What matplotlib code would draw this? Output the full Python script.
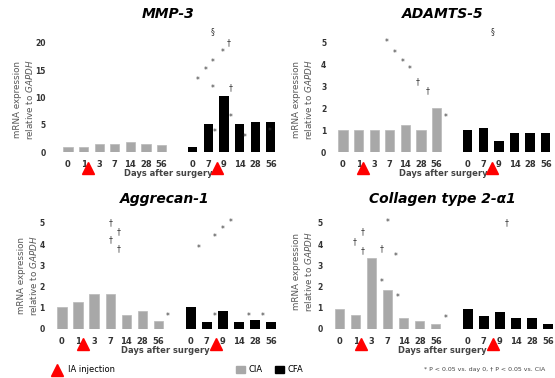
import matplotlib
matplotlib.use("Agg")
import matplotlib.pyplot as plt
from matplotlib.lines import Line2D
from matplotlib.patches import Patch
import numpy as np

# ---------------- data ----------------
gray_days = ["0", "1", "3", "7", "14", "28", "56"]
black_days = ["0", "7", "9", "14", "28", "56"]

titles = ["MMP-3", "ADAMTS-5", "Aggrecan-1", "Collagen type 2-α1"]

mmp3_gray = [0.9, 0.9, 1.4, 1.4, 1.9, 1.4, 1.25]
mmp3_black = [1.0, 5.1, 10.3, 5.1, 5.5, 5.5]

adamts5_gray = [1.0, 1.0, 1.0, 1.0, 1.23, 1.0, 2.0]
adamts5_black = [1.0, 1.08, 0.5, 0.85, 0.85, 0.85]

aggrecan_gray = [1.03, 1.27, 1.65, 1.65, 0.67, 0.83, 0.38]
aggrecan_black = [1.03, 0.35, 0.83, 0.35, 0.43, 0.35]

collagen_gray = [0.94, 0.67, 3.33, 1.84, 0.51, 0.38, 0.25]
collagen_black = [0.94, 0.62, 0.78, 0.51, 0.51, 0.25]

yticks_list = [[0, 5, 10, 15, 20], [0, 1, 2, 3, 4, 5], [0, 1, 2, 3, 4, 5], [0, 1, 2, 3, 4, 5]]
ytop_list = [22, 5.5, 5.3, 5.3]

# significance markers: (position index, y value, symbol)
marks_mmp3 = [(10.3, 20.0, "†"), (9.9, 18.2, "*"), (9.3, 16.5, "*"), (8.8, 15.0, "*"),
              (8.3, 13.2, "*"), (9.3, 11.7, "*"), (10.4, 11.7, "†"), (10.4, 6.4, "*"),
              (9.4, 3.5, "*"), (11.3, 2.6, "*"), (12.9, 3.7, "*"), (9.3, 22.0, "§")]
marks_adamts = [(2.8, 5.0, "*"), (3.3, 4.5, "*"), (3.8, 4.1, "*"), (4.3, 3.8, "*"),
                (4.8, 3.2, "†"), (5.4, 2.8, "†"), (6.6, 1.6, "*"), (9.6, 5.5, "§")]
marks_aggrecan = [(3.0, 5.0, "†"), (3.5, 4.6, "†"), (3.0, 4.2, "†"), (3.5, 3.8, "†"),
                  (8.5, 3.8, "*"), (9.5, 4.3, "*"), (10.0, 4.7, "*"), (10.5, 5.0, "*"),
                  (6.6, 0.57, "*"), (9.5, 0.57, "*"), (11.6, 0.6, "*"), (12.5, 0.6, "*")]
marks_collagen = [(3.0, 5.0, "*"), (0.9, 4.1, "†"), (1.4, 4.6, "†"), (1.4, 3.7, "†"),
                  (2.6, 3.8, "†"), (3.5, 3.4, "*"), (2.6, 2.2, "*"), (3.6, 1.5, "*"),
                  (6.6, 0.5, "*"), (10.4, 5.0, "†")]

# red triangle (loading) positions in index units
tri_pos = [1.3, 9.55]

gray_data = [mmp3_gray, adamts5_gray, aggrecan_gray, collagen_gray]
black_data = [mmp3_black, adamts5_black, aggrecan_black, collagen_black]
marks_all = [marks_mmp3, marks_adamts, marks_aggrecan, marks_collagen]

# ---------------- layout ----------------
W, H = 555, 378
fig = plt.figure(figsize=(W / 100, H / 100), dpi=100)

# (left px, y px of zero, px per index unit, px per y unit)
geom = [(55.5, 152, 15.6, 5.45),
        (330.5, 152, 15.6, 21.8),
        (49.0, 329, 16.1, 21.2),
        (327.0, 329, 16.0, 21.2)]
ytick_pad = [7, 3, 3, 3]
ylab_pos = [(24, 100), (303, 100), (28, 276), (303, 272)]
xlo, xhi = -0.8, 13.6

gray_x = np.arange(len(gray_days))
black_x = np.arange(len(black_days)) + 8

for k in range(4):
    left, y0, sx, sy = geom[k]
    top = ytop_list[k]
    width_px = (xhi - xlo) * sx
    height_px = top * sy
    ax = fig.add_axes([left / W, 1 - y0 / H, width_px / W, height_px / H])
    ax.bar(gray_x, gray_data[k], width=0.58, color="#a8a8a8", edgecolor="#b8b8b8", linewidth=0.5)
    ax.bar(black_x, black_data[k], width=0.6, color="#000000")
    ax.set_xlim(xlo, xhi)
    ax.set_ylim(0, top)
    for s in ax.spines.values():
        s.set_visible(False)
    ax.set_yticks(yticks_list[k])
    ax.set_yticklabels([str(t) for t in yticks_list[k]], fontsize=5.5, fontweight="bold", color="#333333")
    ax.set_xticks(list(gray_x) + list(black_x))
    ax.set_xticklabels(gray_days + black_days, fontsize=6, fontweight="bold", color="#333333")
    ax.tick_params(axis="x", length=0, pad=6)
    ax.tick_params(axis="y", length=0, pad=ytick_pad[k])
    ax.set_xlabel("Days after surgery", fontsize=6, fontweight="bold", color="#444444", labelpad=0)
    ax.set_title(titles[k], fontsize=10, fontweight="bold", style="italic", pad=10)
    for (px, py, sym) in marks_all[k]:
        ax.text(px, py, sym, fontsize=5.5, ha="center", va="center", color="#333333", clip_on=False)
    for t in tri_pos:
        ax.plot([t], [-0.13], marker="^", markersize=9, color="#ff0000",
                transform=ax.get_xaxis_transform(), clip_on=False, linestyle="none")
    lx, ly = ylab_pos[k]
    fig.text(lx / W, 1 - ly / H,
             "mRNA expression\nrelative to $\\mathit{GAPDH}$",
             rotation=90, ha="center", va="center", fontsize=6.3, color="#555555",
             linespacing=1.3)

# ---------------- legend row ----------------
fig.legend(handles=[Line2D([], [], marker="^", color="#ff0000", linestyle="none", markersize=9)],
           labels=["IA injection"], loc="center left", bbox_to_anchor=(45 / W, 1 - 370 / H),
           frameon=False, fontsize=6, handletextpad=0.4, borderaxespad=0)
fig.legend(handles=[Patch(color="#a8a8a8"), Patch(color="#000000")],
           labels=["CIA", "CFA"], loc="center left", bbox_to_anchor=(233 / W, 1 - 370 / H),
           frameon=False, fontsize=6, ncol=2, handlelength=1.0, handleheight=1.0,
           handletextpad=0.5, columnspacing=1.5, borderaxespad=0)
fig.text(545 / W, 1 - 370 / H, "* P < 0.05 vs. day 0, † P < 0.05 vs. CIA",
         ha="right", va="center", fontsize=4.5, color="#444444")

fig.savefig("out.png", dpi=100)
